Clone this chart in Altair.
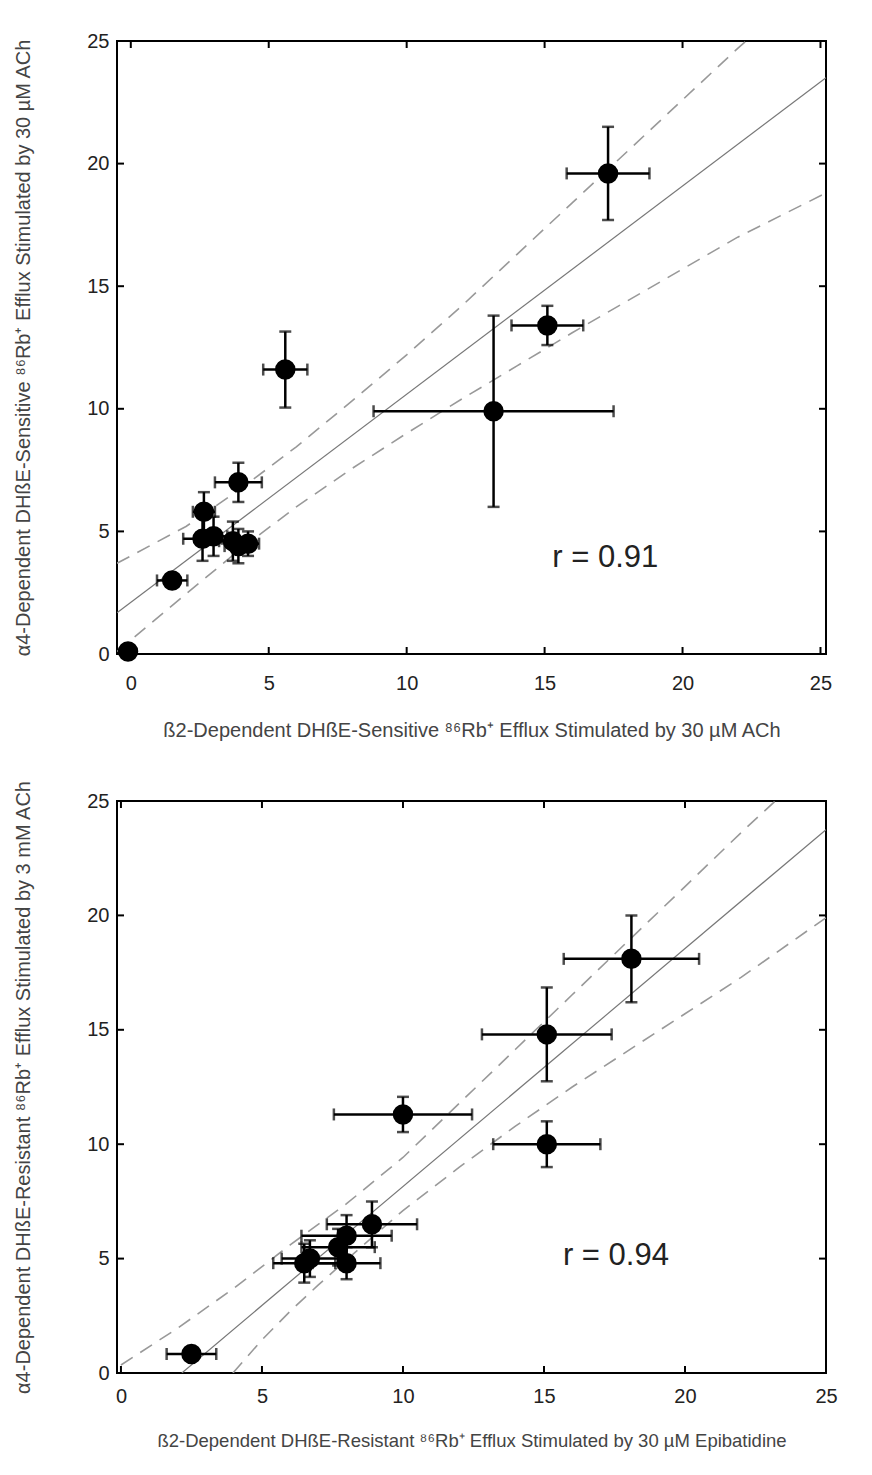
import altair as alt
import pandas as pd

TICKS = [0, 5, 10, 15, 20, 25]

# ---------- top panel (DHbE-sensitive) ----------
top_x = [17.3, 15.1, 13.15, 5.6, 3.9, 2.65, 2.6, 3.0, 3.7, 3.9, 4.25, 1.5, -0.1]
top_y = [19.6, 13.4, 9.9, 11.6, 7.0, 5.8, 4.7, 4.8, 4.6, 4.4, 4.5, 3.0, 0.1]
top_xerr = [1.5, 1.3, 4.35, 0.8, 0.85, 0.4, 0.7, 0.5, 0.5, 0.5, 0.4, 0.55, 0.0]
top_yerr = [1.9, 0.8, 3.9, 1.55, 0.8, 0.8, 0.9, 0.8, 0.8, 0.7, 0.5, 0.2, 0.0]
top_fit_x = [-0.5, 25.2]
top_fit_y = [1.68, 23.5]
top_up_x = [-0.5, 2, 4, 6, 8, 10, 12, 14, 16, 18, 20, 22, 22.3]
top_up_y = [3.7, 5.2, 6.75, 8.45, 10.3, 12.2, 14.2, 16.3, 18.4, 20.5, 22.6, 24.7, 25.0]
top_lo_x = [-0.5, 2, 4, 6, 8, 10, 12, 14, 16, 18, 20, 22, 25.2]
top_lo_y = [0.1, 2.45, 4.3, 6.0, 7.55, 9.0, 10.4, 11.75, 13.1, 14.4, 15.7, 17.0, 18.8]
top_r = ("r = 0.91", 17.2, 3.9)

# ---------- bottom panel (DHbE-resistant) ----------
bot_x = [18.1, 15.1, 10.0, 15.1, 2.5, 8.9, 8.0, 7.7, 8.0, 6.5, 6.7]
bot_y = [18.1, 14.8, 11.3, 10.0, 0.83, 6.5, 6.0, 5.5, 4.8, 4.8, 5.0]
bot_xerr = [2.4, 2.3, 2.45, 1.9, 0.88, 1.6, 1.6, 1.3, 1.2, 1.1, 1.0]
bot_yerr = [1.9, 2.05, 0.77, 1.0, 0.2, 1.0, 0.9, 0.8, 0.7, 0.85, 0.8]
bot_fit_x = [2.16, 25.0]
bot_fit_y = [0.0, 23.75]
bot_up_x = [0, 2, 4, 6, 8, 10, 12, 14, 16, 18, 20, 22, 23.2]
bot_up_y = [0.35, 1.95, 3.7, 5.6, 7.4, 9.42, 11.79, 14.16, 16.53, 18.9, 21.26, 23.63, 25.0]
bot_lo_x = [3.97, 5, 6, 7, 8, 10, 12, 14, 16, 18, 20, 22, 25]
bot_lo_y = [0.0, 1.45, 2.7, 3.85, 4.95, 7.1, 9.0, 10.8, 12.5, 14.1, 15.7, 17.3, 19.9]
bot_r = ("r = 0.94", 17.55, 5.1)

FONT = "Liberation Sans"


def panel(px, py, pxe, pye, fx, fy, ux, uy, lx, ly, rinfo, xdom, W, H,
          xtitle, ytitle, xlabpad, xtitlepad, xtitlesize):
    pts = pd.DataFrame({
        "x": px, "y": py,
        "xlo": [a - b for a, b in zip(px, pxe)],
        "xhi": [a + b for a, b in zip(px, pxe)],
        "ylo": [a - b for a, b in zip(py, pye)],
        "yhi": [a + b for a, b in zip(py, pye)],
    })
    xs = alt.Scale(domain=xdom, nice=False, zero=False)
    ys = alt.Scale(domain=[0, 25], nice=False, zero=False)
    xax = alt.Axis(values=TICKS, title=xtitle, ticks=False, domain=False, grid=False,
                   labelPadding=xlabpad, titlePadding=xtitlepad, labelFontSize=20,
                   titleFontSize=xtitlesize, labelFont=FONT, titleFont=FONT,
                   labelColor="#222", titleColor="#444", titleFontWeight="normal",
                   labelFlush=False)
    yax = alt.Axis(values=TICKS, title=ytitle, ticks=False, domain=False, grid=False,
                   labelPadding=8, titlePadding=53, labelFontSize=20,
                   titleFontSize=20, labelFont=FONT, titleFont=FONT,
                   labelColor="#222", titleColor="#444", titleFontWeight="normal",
                   labelFlush=False)

    def X(f):
        return alt.X(f, type="quantitative", scale=xs, axis=xax)

    def Y(f):
        return alt.Y(f, type="quantitative", scale=ys, axis=yax)

    fit = alt.Chart(pd.DataFrame({"x": fx, "y": fy})).mark_line(
        color="#777", strokeWidth=1.2, clip=True).encode(x=X("x"), y=Y("y"))
    up = alt.Chart(pd.DataFrame({"x": ux, "y": uy})).mark_line(
        color="#999", strokeWidth=1.6, strokeDash=[14, 9], clip=True).encode(x=X("x"), y=Y("y"))
    lo = alt.Chart(pd.DataFrame({"x": lx, "y": ly})).mark_line(
        color="#999", strokeWidth=1.6, strokeDash=[14, 9], clip=True).encode(x=X("x"), y=Y("y"))

    base = alt.Chart(pts)
    hbar = base.mark_rule(color="black", strokeWidth=2.5).encode(x=X("xlo"), x2="xhi", y=Y("y"))
    vbar = base.mark_rule(color="black", strokeWidth=2.5).encode(x=X("x"), y=Y("ylo"), y2="yhi")
    capl = base.mark_tick(color="black", orient="vertical", size=12, thickness=2.5).encode(x=X("xlo"), y=Y("y"))
    capr = base.mark_tick(color="black", orient="vertical", size=12, thickness=2.5).encode(x=X("xhi"), y=Y("y"))
    capb = base.mark_tick(color="black", orient="horizontal", size=12, thickness=2.5).encode(x=X("x"), y=Y("ylo"))
    capt = base.mark_tick(color="black", orient="horizontal", size=12, thickness=2.5).encode(x=X("x"), y=Y("yhi"))
    dots = base.mark_circle(color="black", size=420, opacity=1).encode(x=X("x"), y=Y("y"))

    tdf = alt.Chart(pd.DataFrame({"t": TICKS}))
    tb = tdf.mark_rule(color="black", strokeWidth=2).encode(x=X("t"), y=alt.value(H), y2=alt.value(H - 7))
    tt = tdf.mark_rule(color="black", strokeWidth=2).encode(x=X("t"), y=alt.value(0), y2=alt.value(7))
    tl = tdf.mark_rule(color="black", strokeWidth=2).encode(y=Y("t"), x=alt.value(0), x2=alt.value(7))
    tr = tdf.mark_rule(color="black", strokeWidth=2).encode(y=Y("t"), x=alt.value(W), x2=alt.value(W - 7))

    rtxt = alt.Chart(pd.DataFrame({"lab": [rinfo[0]], "x": [rinfo[1]], "y": [rinfo[2]]})).mark_text(
        font=FONT, fontSize=31, color="#222", align="center", baseline="middle"
    ).encode(x=X("x"), y=Y("y"), text="lab:N")

    return alt.layer(fit, up, lo, hbar, vbar, capl, capr, capb, capt, dots,
                     tb, tt, tl, tr, rtxt).properties(width=W, height=H)


top = panel(top_x, top_y, top_xerr, top_yerr, top_fit_x, top_fit_y,
            top_up_x, top_up_y, top_lo_x, top_lo_y, top_r, [-0.5, 25.2], 709, 613,
            "ß2-Dependent DHßE-Sensitive ⁸⁶Rb⁺ Efflux Stimulated by 30 µM ACh",
            "α4-Dependent DHßE-Sensitive ⁸⁶Rb⁺ Efflux Stimulated by 30 µM ACh", 19, 27, 20)

bottom = panel(bot_x, bot_y, bot_xerr, bot_yerr, bot_fit_x, bot_fit_y,
               bot_up_x, bot_up_y, bot_lo_x, bot_lo_y, bot_r, [-0.14, 25.0], 709, 572,
               "ß2-Dependent DHßE-Resistant ⁸⁶Rb⁺ Efflux Stimulated by 30 µM Epibatidine",
               "α4-Dependent DHßE-Resistant ⁸⁶Rb⁺ Efflux Stimulated by 3 mM ACh", 13, 25, 18.5)

chart = alt.vconcat(top, bottom, spacing=38).properties(
    padding={"left": 4, "top": 22, "right": 5, "bottom": 5}
).configure(background="white").configure_view(stroke="black", strokeWidth=2)

chart.save("out.html", embed_options={"renderer": "svg", "actions": False})
